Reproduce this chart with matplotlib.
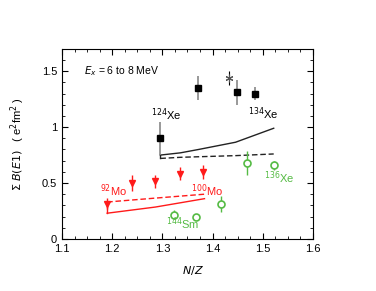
import matplotlib.pyplot as plt
import numpy as np

# Xe (black squares)
xe_nz = [1.296, 1.372, 1.448, 1.484]
xe_b = [0.90, 1.35, 1.31, 1.30]
xe_err = [0.15, 0.11, 0.11, 0.06]
# star point
star_nz = [1.432]
star_b = [1.44]
star_err = [0.06]
# Mo (red triangles)
mo_nz = [1.190, 1.239, 1.286, 1.335, 1.382]
mo_b = [0.315, 0.50, 0.515, 0.585, 0.60]
mo_err = [0.05, 0.07, 0.06, 0.06, 0.06]
# Sm / Xe (green open circles)
sm_nz = [1.324, 1.368, 1.416, 1.468, 1.522]
sm_b = [0.215, 0.195, 0.315, 0.68, 0.66]
sm_err = [0.04, 0.02, 0.07, 0.11, 0.04]
# model curves
xe_line_nz = [1.296, 1.336, 1.372, 1.446, 1.522]
xe_solid = [0.75, 0.77, 0.80, 0.865, 0.99]
xe_dash = [0.72, 0.73, 0.735, 0.745, 0.76]
mo_line_nz = [1.190, 1.286, 1.384]
mo_solid = [0.23, 0.285, 0.36]
mo_dash = [0.33, 0.365, 0.40]

plt.rcParams['font.family'] = ['Liberation Sans', 'DejaVu Sans']
fig = plt.figure(figsize=(3.76, 2.91), dpi=100)
ax = fig.add_axes([0.165, 0.179, 0.667, 0.653])

red = '#ff1a1a'
green = '#55bb44'

ax.plot(xe_line_nz, xe_solid, color='#222222', lw=1.0)
ax.plot(xe_line_nz, xe_dash, color='#222222', lw=1.0, ls=(0, (4, 2)))
ax.plot([xe_line_nz[0], xe_line_nz[0]], [xe_dash[0], xe_solid[0]], color='#222222', lw=1.0)
ax.plot(mo_line_nz, mo_solid, color=red, lw=1.0)
ax.plot(mo_line_nz, mo_dash, color=red, lw=1.0, ls=(0, (4, 2)))
ax.plot([mo_line_nz[0], mo_line_nz[0]], [mo_solid[0], mo_dash[0]], color=red, lw=1.0)

ax.errorbar(xe_nz, xe_b, yerr=xe_err, fmt='s', color='black', ms=4.5,
            ecolor='#888888', elinewidth=1.2, capsize=0)
ax.errorbar(star_nz, star_b, yerr=star_err, fmt='none', ecolor='black', elinewidth=0.8)
ax.plot(star_nz, star_b, marker=(6, 2, 0), color='#555555', ms=5.5, mew=0.8, ls='none')
ax.errorbar(mo_nz, mo_b, yerr=mo_err, fmt='v', color=red, ms=4.5,
            elinewidth=1.0, capsize=0)
ax.errorbar(sm_nz, sm_b, yerr=sm_err, fmt='o', color=green, mfc='white', ms=5,
            mew=1.2, elinewidth=1.0, capsize=0)

fs = 8
ax.text(1.143, 1.47, r'$E_x$ = 6 to 8 MeV', fontsize=7.5)
ax.text(1.277, 1.07, r'$^{124}$Xe', fontsize=fs)
ax.text(1.470, 1.08, r'$^{134}$Xe', fontsize=fs)
ax.text(1.175, 0.39, r'$^{92}$Mo', fontsize=fs, color=red)
ax.text(1.358, 0.39, r'$^{100}$Mo', fontsize=fs, color=red)
ax.text(1.308, 0.09, r'$^{144}$Sm', fontsize=fs, color=green)
ax.text(1.502, 0.50, r'$^{136}$Xe', fontsize=fs, color=green)

ax.set_xlim(1.1, 1.6)
ax.set_ylim(0, 1.7)
ax.set_xticks([1.1, 1.2, 1.3, 1.4, 1.5, 1.6])
ax.set_xticklabels(['1.1', '1.2', '1.3', '1.4', '1.5', '1.6'])
ax.set_yticks([0, 0.5, 1, 1.5])
ax.set_yticklabels(['0', '0.5', '1', '1.5'])
ax.set_xticks(np.arange(1.1, 1.6, 0.025), minor=True)
ax.set_yticks(np.arange(0, 1.7, 0.1), minor=True)
ax.tick_params(which='both', direction='in', top=True, right=True, labelsize=8)
ax.tick_params(which='major', length=4)
ax.tick_params(which='minor', length=2)

ax.set_xlabel(r'$N/Z$', fontsize=8)
ax.xaxis.set_label_coords(0.52, -0.13)
ax.set_ylabel(r'$\Sigma$ $B(E1)$   ( e$^2$fm$^2$ )', fontsize=8)
ax.yaxis.set_label_coords(-0.14, 0.5)

fig.savefig('out.png', dpi=100)
